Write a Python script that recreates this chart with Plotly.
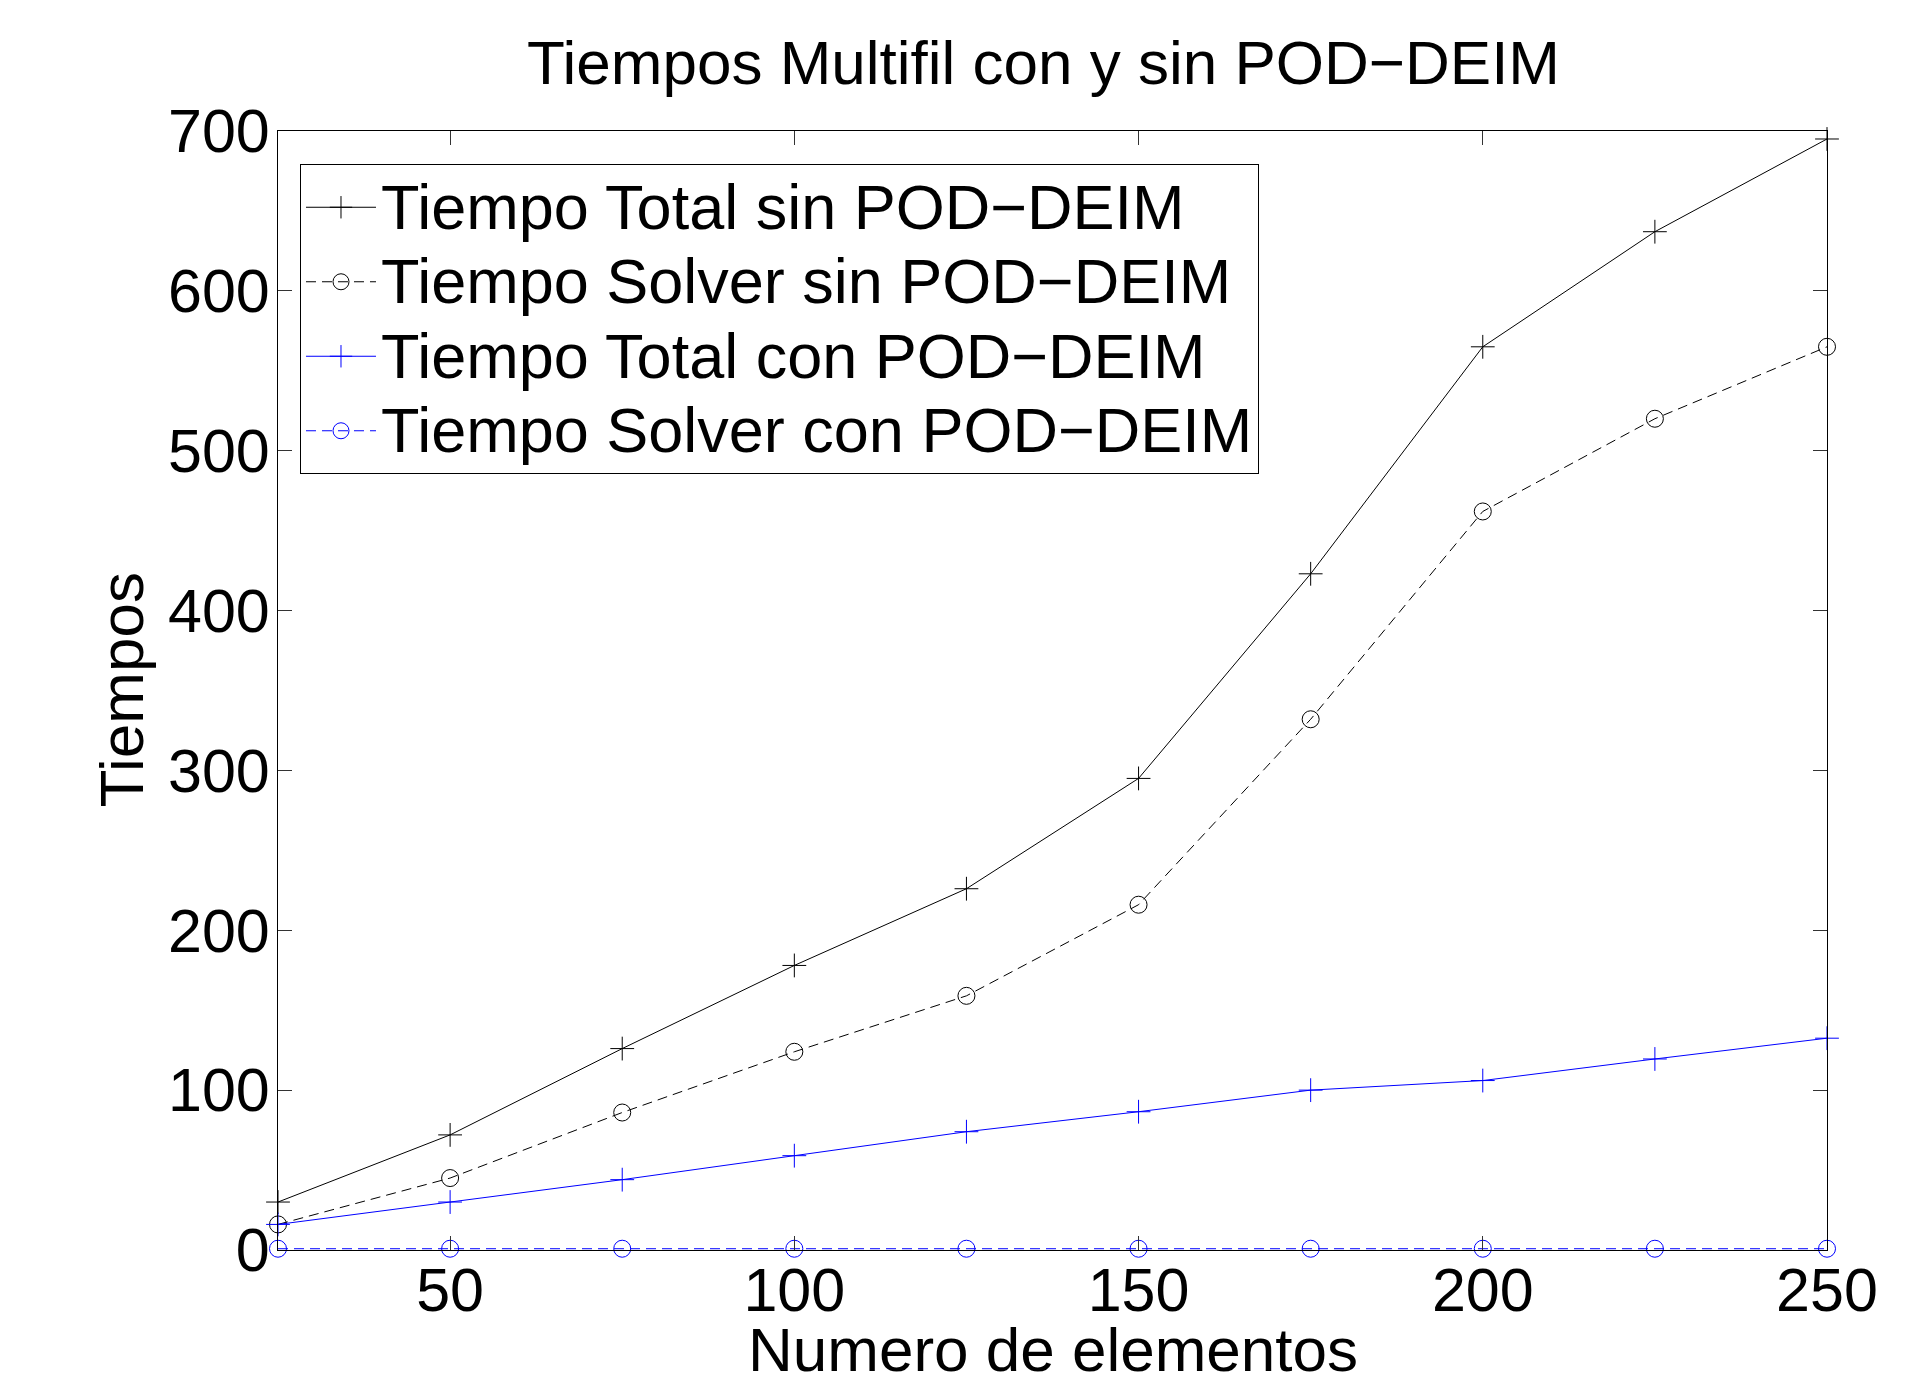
import plotly.graph_objects as go

elementos = [25, 50, 75, 100, 125, 150, 175, 200, 225, 250]
total_sin = [30, 72, 126, 178, 226, 295, 423, 565, 637, 695]
solver_sin = [16, 45, 86, 124, 159, 216, 332, 462, 520, 565]
total_con = [16, 30, 44, 59, 74, 86.5, 100, 106, 119.5, 132.5]
solver_con = [0.8, 0.8, 0.8, 0.8, 0.8, 0.8, 0.8, 0.8, 0.8, 0.8]

x_ticks = [50, 100, 150, 200, 250]
y_ticks = [0, 100, 200, 300, 400, 500, 600, 700]

FONT = "Liberation Sans, Arial, Helvetica, sans-serif"
FS = 61
LEG_FS = 63


def leg(name):
    return '<span style="font-size:%dpx">%s</span>' % (LEG_FS, name)


fig = go.Figure()
fig.add_trace(go.Scatter(x=elementos, y=total_sin, mode="lines+markers",
                         name=leg("Tiempo Total sin POD\u2212DEIM"),
                         line=dict(color="black", width=1),
                         marker=dict(symbol="cross-thin-open", size=17, line=dict(color="black", width=1)),
                         cliponaxis=False))
fig.add_trace(go.Scatter(x=elementos, y=solver_sin, mode="lines+markers",
                         name=leg("Tiempo Solver sin POD\u2212DEIM"),
                         line=dict(color="black", width=1, dash="10px,6px"),
                         marker=dict(symbol="circle-open", size=17, color="black", line=dict(color="black", width=1)),
                         cliponaxis=False))
fig.add_trace(go.Scatter(x=elementos, y=total_con, mode="lines+markers",
                         name=leg("Tiempo Total con POD\u2212DEIM"),
                         line=dict(color="#0000ff", width=1),
                         marker=dict(symbol="cross-thin-open", size=17, line=dict(color="#0000ff", width=1)),
                         cliponaxis=False))
fig.add_trace(go.Scatter(x=elementos, y=solver_con, mode="lines+markers",
                         name=leg("Tiempo Solver con POD\u2212DEIM"),
                         line=dict(color="#0000ff", width=1, dash="10px,6px"),
                         marker=dict(symbol="circle-open", size=17, color="#0000ff", line=dict(color="#0000ff", width=1)),
                         cliponaxis=False))

axis_common = dict(showgrid=False, zeroline=False, showline=True, linecolor="black", linewidth=1,
                   mirror="ticks", ticks="inside", ticklen=14, tickwidth=1, tickcolor="#333",
                   tickfont=dict(family=FONT, size=FS, color="black"))

fig.update_xaxes(range=[25, 250], tickvals=x_ticks, ticktext=[str(v) for v in x_ticks],
                 ticklabelstandoff=-13, **axis_common)
fig.update_yaxes(range=[0, 700], tickvals=y_ticks, ticktext=[str(v) for v in y_ticks],
                 ticklabelstandoff=-5, **axis_common)

fig.update_layout(
    width=1915, height=1368,
    margin=dict(l=270, r=96, t=123, b=126),
    paper_bgcolor="white", plot_bgcolor="white",
    font=dict(family=FONT, size=FS, color="black"),
    showlegend=True,
    legend=dict(x=0.0142, y=0.9705, xanchor="left", yanchor="top",
                bordercolor="black", borderwidth=1, bgcolor="white",
                font=dict(family=FONT, size=55, color="black"),
                itemwidth=70, tracegroupgap=0),
    annotations=[
        dict(text="Tiempos Multifil con y sin POD\u2212DEIM", xref="paper", yref="paper",
             x=0.494, y=1, xanchor="center", yanchor="middle", yshift=69,
             showarrow=False, font=dict(family=FONT, size=62, color="black")),
        dict(text="Numero de elementos", xref="paper", yref="paper",
             x=0.5, y=0, xanchor="center", yanchor="middle", yshift=-99,
             showarrow=False, font=dict(family=FONT, size=62, color="black")),
        dict(text="Tiempos", xref="paper", yref="paper", textangle=-90,
             x=0, y=0.5, xanchor="center", yanchor="middle", xshift=-157,
             showarrow=False, font=dict(family=FONT, size=62, color="black")),
    ],
)

fig.write_html("out.html")
